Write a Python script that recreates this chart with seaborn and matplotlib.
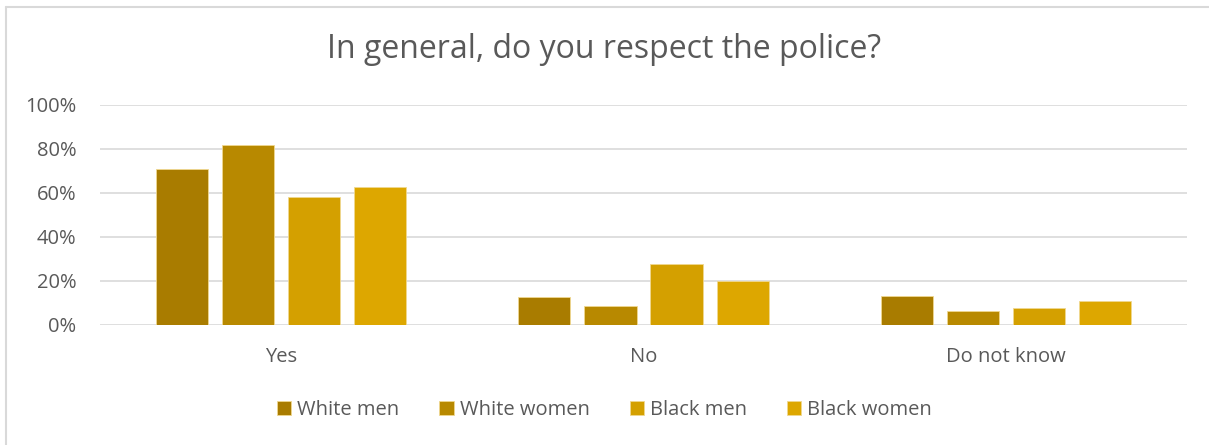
"""Bar chart: In general, do you respect the police?"""

import matplotlib
matplotlib.use("Agg")

import matplotlib.pyplot as plt
import pandas as pd
import seaborn as sns
from matplotlib.lines import Line2D
from matplotlib.ticker import PercentFormatter

answers = ["Yes", "No", "Do not know"]
groups = ["White men", "White women", "Black men", "Black women"]
white_men = [70.8, 12.6, 13.2]
white_women = [81.7, 8.5, 6.4]
black_men = [58.2, 27.7, 7.9]
black_women = [62.9, 20.2, 11.1]
y_ticks = [0, 20, 40, 60, 80, 100]

colors = ["#A97C00", "#B88900", "#D4A000", "#DDA700"]
text_color = "#595959"

df = pd.DataFrame({
    "answer": answers * 4,
    "group": [g for g in groups for _ in answers],
    "value": white_men + white_women + black_men + black_women,
})

sns.set_theme(style="white")
plt.rcParams["font.family"] = ["Open Sans", "DejaVu Sans"]

W, H = 1209, 445
fig = plt.figure(figsize=(W / 100, H / 100), dpi=100)
ax = fig.add_axes([100 / W, 1 - 325 / H, 1087 / W, 220 / H])

sns.barplot(
    data=df, x="answer", y="value", hue="group",
    order=answers, hue_order=groups, palette=colors, saturation=1,
    width=0.73, gap=0.21, ax=ax, legend=True,
    edgecolor="#F0D890", linewidth=0.6,
)

ax.set_xlim(-0.5, 2.5)
ax.set_ylim(0, 100)
ax.set_yticks(y_ticks)
ax.yaxis.set_major_formatter(PercentFormatter(decimals=0))
ax.grid(axis="y", color="#D9D9D9", linewidth=1.2)
ax.set_axisbelow(True)
for s in ax.spines.values():
    s.set_visible(False)
ax.tick_params(axis="y", length=0, labelsize=14.5, colors=text_color, pad=17)
ax.tick_params(axis="x", length=0, labelsize=14.5, colors=text_color, pad=16)
ax.set_xlabel("")
ax.set_ylabel("")

fig.text(0.5, 1 - 50 / H, "In general, do you respect the police?",
         ha="center", va="center", fontsize=23, color=text_color)

handles, labels = ax.get_legend_handles_labels()
ax.legend_.remove()
fig.legend(handles, labels, loc="center", bbox_to_anchor=(0.5, 1 - 410 / H),
           ncol=4, frameon=False, fontsize=14.5, labelcolor=text_color,
           handlelength=0.7, handleheight=0.7, handletextpad=0.3,
           columnspacing=2.0)

# chart frame (only left and top edges are visible in the source)
border = "#D9D9D9"
fig.add_artist(Line2D([5.5 / W, 5.5 / W], [0, 1 - 6.5 / H], color=border,
                      linewidth=1.5, transform=fig.transFigure))
fig.add_artist(Line2D([5.5 / W, 1], [1 - 6.5 / H, 1 - 6.5 / H], color=border,
                      linewidth=1.5, transform=fig.transFigure))

fig.savefig("out.png", dpi=100)
plt.close(fig)
